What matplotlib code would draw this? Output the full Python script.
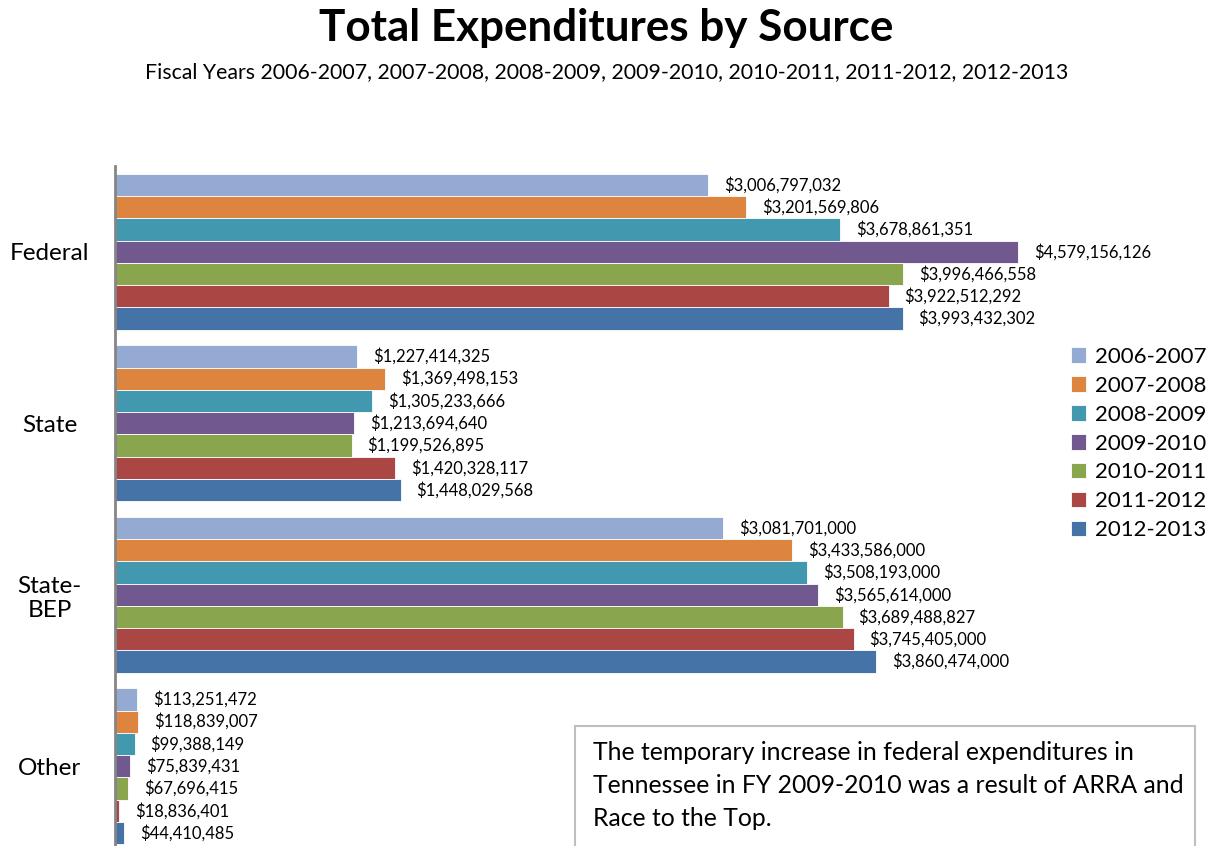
import numpy as np
import matplotlib.pyplot as plt
from matplotlib.patches import Rectangle

plt.rcParams['font.family'] = ['Lato', 'DejaVu Sans']

sources = ['Federal', 'State', 'State-\nBEP', 'Other']
years = ['2006-2007', '2007-2008', '2008-2009', '2009-2010',
         '2010-2011', '2011-2012', '2012-2013']
colors = ['#95AAD2', '#DD843F', '#4198AF', '#71588F',
          '#89A54E', '#AA4644', '#4572A7']

# expenditures per fiscal year, ordered Federal, State, State-BEP, Other
fy_2006 = [3006797032, 1227414325, 3081701000, 113251472]
fy_2007 = [3201569806, 1369498153, 3433586000, 118839007]
fy_2008 = [3678861351, 1305233666, 3508193000, 99388149]
fy_2009 = [4579156126, 1213694640, 3565614000, 75839431]
fy_2010 = [3996466558, 1199526895, 3689488827, 67696415]
fy_2011 = [3922512292, 1420328117, 3745405000, 18836401]
fy_2012 = [3993432302, 1448029568, 3860474000, 44410485]
series = [fy_2006, fy_2007, fy_2008, fy_2009, fy_2010, fy_2011, fy_2012]

W, H = 1213, 846
fig = plt.figure(figsize=(W / 100, H / 100), dpi=100)

# axes placed in pixel terms: left edge at x=115, top at y=166
left, right, top, bottom = 115, 1060, 166, 852
ax = fig.add_axes([left / W, 1 - bottom / H, (right - left) / W, (bottom - top) / H])

y = np.arange(len(sources))
bw = 0.13
for i, (vals, yr) in enumerate(zip(series, years)):
    pos = y + (i - 3) * bw
    ax.barh(pos, vals, height=bw, color=colors[i], edgecolor='white',
            linewidth=0.6, label=yr)
    for p, v in zip(pos, vals):
        ax.annotate(f'${v:,.0f}', (v, p), xytext=(11.5, 0),
                    textcoords='offset points', va='center', ha='left',
                    fontsize=12, annotation_clip=False)

ax.set_xlim(0, (right - left) / 197.2 * 1e9)
ax.set_ylim(3.5, -0.5)
ax.set_yticks(y)
ax.set_yticklabels(sources, fontsize=17.5, ha='center')
ax.tick_params(axis='y', length=0, pad=47)
ax.set_xticks([])
for s in ['top', 'right', 'bottom']:
    ax.spines[s].set_visible(False)
ax.spines['left'].set_color('#858585')
ax.spines['left'].set_linewidth(2)

fig.text(0.5, 1 - 28 / H, 'Total Expenditures by Source', ha='center',
         va='center', fontsize=31.7, fontweight='bold')
fig.text(0.5, 1 - 72 / H,
         'Fiscal Years 2006-2007, 2007-2008, 2008-2009, 2009-2010, '
         '2010-2011, 2011-2012, 2012-2013',
         ha='center', va='center', fontsize=15.3)

fig.legend(loc='upper left', bbox_to_anchor=(1062 / W, 1 - 338 / H),
           frameon=False, fontsize=16, handlelength=0.7, handleheight=0.7,
           handletextpad=0.4, labelspacing=0.4, borderaxespad=0)

# note box at lower right
bx0, by0 = 575, 726
fig.add_artist(Rectangle((bx0 / W, 1 - 880 / H), (1195 - bx0) / W,
                         (880 - by0) / H, transform=fig.transFigure,
                         facecolor='white', edgecolor='#BFBFBF', linewidth=1.5))
note = ['The temporary increase in federal expenditures in',
        'Tennessee in FY 2009-2010 was a result of ARRA and',
        'Race to the Top.']
for k, line in enumerate(note):
    fig.text(593 / W, 1 - (752 + 33 * k) / H, line, ha='left', va='center',
             fontsize=17.8)

fig.savefig('out.png', dpi=100)
